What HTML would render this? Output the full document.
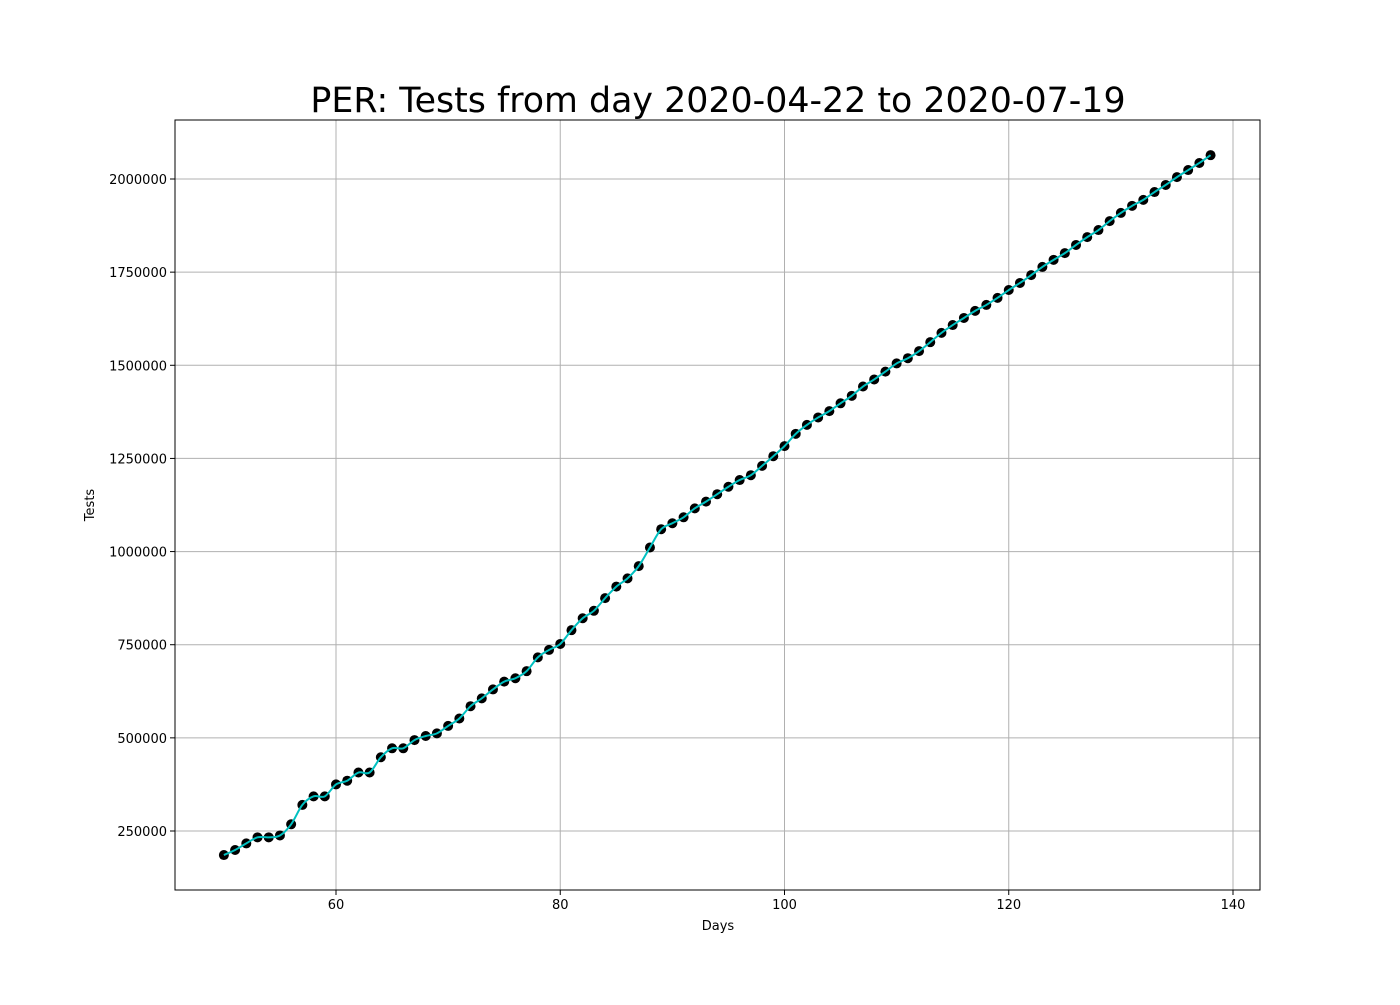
<!DOCTYPE html>
<html><head><meta charset="utf-8"><style>
body{margin:0;background:#fff;}
svg text{font-family:"DejaVu Sans","Liberation Sans",sans-serif;}
</style></head><body>
<svg id="chart" width="1400" height="1000" xmlns="http://www.w3.org/2000/svg">
<rect width="1400" height="1000" fill="#fff"/>
<text x="718" y="112" text-anchor="middle" font-size="34.8">PER: Tests from day 2020-04-22 to 2020-07-19</text>
<text x="718" y="930" text-anchor="middle" font-size="13">Days</text>
<text transform="translate(94,505) rotate(-90)" text-anchor="middle" font-size="13">Tests</text>
<g id="grid"></g><g id="series"></g><g id="axes"></g>
</svg>
<script>
const startDay = 50;
const tests = [185500,199000,216700,233000,233000,238000,268000,320000,343000,343000,
375000,385000,407000,407000,448000,472000,472000,494000,505000,512000,
532000,552000,585000,606000,630000,651000,660000,679000,716000,736000,
752000,789000,821000,841000,875000,906000,928000,961000,1011000,1060000,
1076000,1092000,1116000,1134000,1154000,1174000,1192000,1205000,1230000,1256000,
1283000,1316000,1340000,1360000,1377000,1398000,1418000,1443000,1462000,1483000,
1505000,1519000,1538000,1562000,1587000,1608000,1627000,1646000,1662000,1681000,
1702000,1721000,1742000,1764000,1783000,1801000,1823000,1844000,1863000,1887000,
1909000,1928000,1944000,1965000,1984000,2005000,2024000,2043000,2064000];
const xTicks = [60,80,100,120,140];
const yTicks = [250000,500000,750000,1000000,1250000,1500000,1750000,2000000];

const L=175,R=1260,T=120,B=890;
const xS=d=>336+(d-60)*(1233-336)/80;
const yS=v=>179+(2000000-v)*(831-179)/1750000;
const NS='http://www.w3.org/2000/svg';
function mk(tag,attrs,parent){const e=document.createElementNS(NS,tag);for(const k in attrs)e.setAttribute(k,attrs[k]);parent.appendChild(e);return e;}
const grid=document.getElementById('grid'),series=document.getElementById('series'),axes=document.getElementById('axes');

xTicks.forEach(t=>{const x=xS(t);
 const g=mk('line',{x1:x,x2:x,y1:T,y2:B,stroke:'#b0b0b0','stroke-width':1},grid);
 
 
 mk('line',{x1:x,x2:x,y1:B,y2:B+5,stroke:'#000'},axes);
 const tx=mk('text',{x:x,y:B+19,'text-anchor':'middle','font-size':13},axes);tx.textContent=t;
 
 
});
yTicks.forEach(t=>{const y=yS(t);
 const g=mk('line',{x1:L,x2:R,y1:y,y2:y,stroke:'#b0b0b0','stroke-width':1},grid);
 
 
 mk('line',{x1:L-5,x2:L,y1:y,y2:y,stroke:'#000'},axes);
 const tx=mk('text',{x:L-8,y:y+5,'text-anchor':'end','font-size':13},axes);tx.textContent=t;
 
 
});
const frame=mk('rect',{x:L,y:T,width:R-L,height:B-T,fill:'none',stroke:'#000','stroke-width':1},axes);



const pts=tests.map((v,i)=>[xS(startDay+i),yS(v)]);
let d='M'+pts[0][0]+','+pts[0][1];
for(let i=0;i<pts.length-1;i++){
 const p0=pts[Math.max(0,i-1)],p1=pts[i],p2=pts[i+1],p3=pts[Math.min(pts.length-1,i+2)];
 const c1=[p1[0]+(p2[0]-p0[0])/6,p1[1]+(p2[1]-p0[1])/6];
 const c2=[p2[0]-(p3[0]-p1[0])/6,p2[1]-(p3[1]-p1[1])/6];
 d+=` C${c1[0]},${c1[1]} ${c2[0]},${c2[1]} ${p2[0]},${p2[1]}`;
}
pts.forEach(p=>{
 const c=mk('circle',{cx:p[0],cy:p[1],r:5,fill:'#000'},series);
 
 
});
const line=mk('path',{d:d,fill:'none',stroke:'#00c0c0','stroke-width':2},series);


</script>
</body></html>
